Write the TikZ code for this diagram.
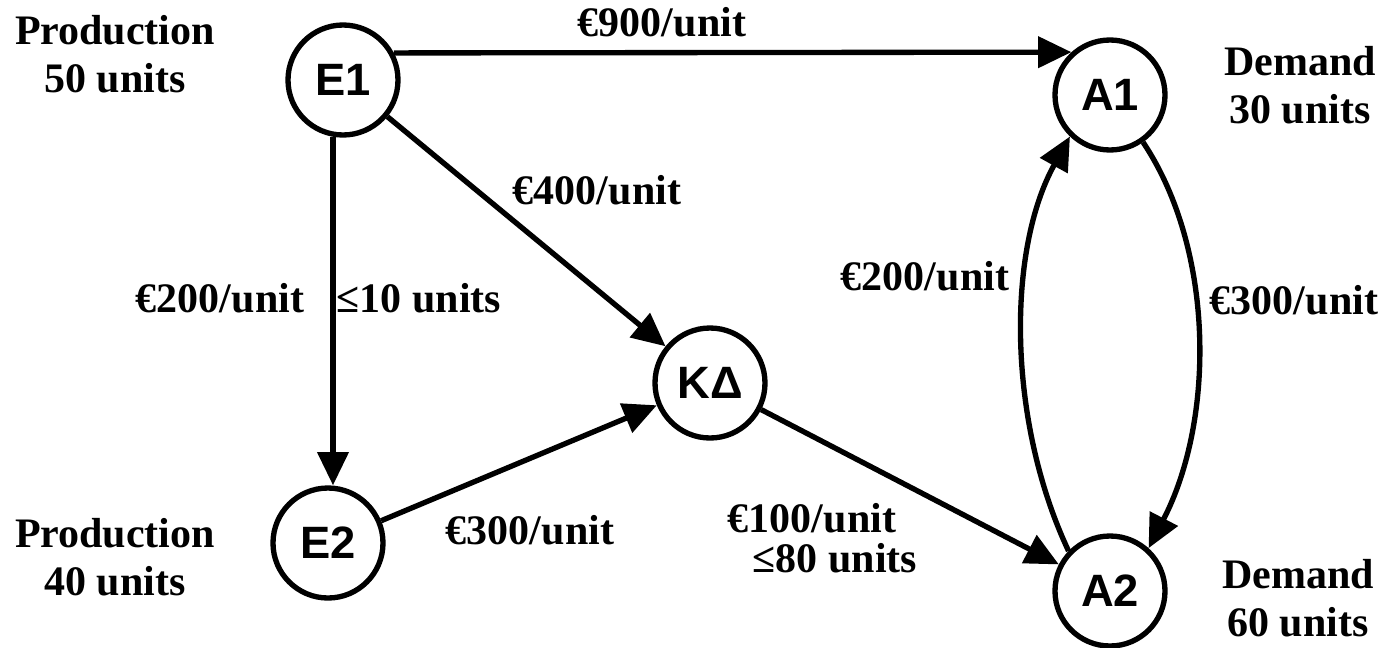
\documentclass[tikz,border=0pt]{standalone}
\usepackage{fontspec}
\setmainfont{Liberation Serif}
\newfontfamily\nodefont{Liberation Sans}
\usetikzlibrary{arrows.meta,calc}
\begin{document}
\begin{tikzpicture}[x=0.75pt,y=-0.75pt,
  st/.style={circle,draw,line width=4pt,minimum size=82.5pt,inner sep=0pt,font=\nodefont\bfseries\fontsize{34}{40}\selectfont},
  lbl/.style={font=\bfseries\fontsize{31.5}{36}\selectfont,inner sep=0pt,align=center},
  arr/.style={line width=4pt,-{Triangle[length=25pt,width=23pt]}}]
\useasboundingbox (0,0) rectangle (1390,647);
\node[st] (E1) at (343,80) {E1};
\node[st] (E2) at (328,543) {E2};
\node[st] (KD) at (710,383) {ΚΔ};
\node[st] (A1) at (1110,95) {A1};
\node[st] (A2) at (1110,591) {A2};

\node[lbl] (p1) at (115,54) {Production\\50 units};
\node[lbl] (p2) at (115,557) {Production\\40 units};
\node[lbl] (d1) at (1300,85) {Demand\\30 units};
\node[lbl] (d2) at (1298,598) {Demand\\60 units};
\node[lbl] (c900) at (662,22) {€900/unit};
\node[lbl] (c400) at (597,190) {€400/unit};
\node[lbl] (c200a) at (220,298) {€200/unit};
\node[lbl] (l10) at (419,298) {≤10 units};
\node[lbl] (c300a) at (530,530) {€300/unit};
\node[lbl] (c100) at (812,518) {€100/unit};
\node[lbl] (l80) at (835,558) {≤80 units};
\node[lbl] (c200b) at (925,276) {€200/unit};
\node[lbl] (c300b) at (1294,300) {€300/unit};

\draw[arr] (E1.28) -- (A1.132);
\draw[arr] (E1.260) -- (E1.260 |- E2.north);
\draw[arr] (E1) -- (KD);
\draw[arr] (E2) -- (KD);
\draw[arr] (KD) -- (A2);
\draw[arr] (A2.136) .. controls (1007,420) and (1007,250) .. (A1.226);
\draw[arr] (A1.305) .. controls (1215,250) and (1215,420) .. (A2.48);
\end{tikzpicture}
\end{document}
